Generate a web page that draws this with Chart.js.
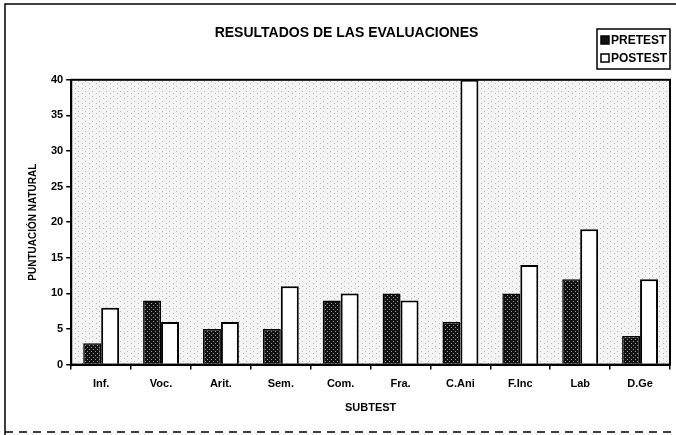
<!DOCTYPE html>
<html>
<head>
<meta charset="utf-8">
<script src="https://cdn.jsdelivr.net/npm/chart.js@4"></script>
<style>
  body { margin: 0; background: #fff; }
  #wrap { width: 676px; height: 435px; }
</style>
</head>
<body>
<div id="wrap"><canvas id="myChart" width="676" height="435"></canvas></div>
<script>
const categories = ["Inf.", "Voc.", "Arit.", "Sem.", "Com.", "Fra.", "C.Ani", "F.Inc", "Lab", "D.Ge"];
const pretest = [3, 9, 5, 5, 9, 10, 6, 10, 12, 4];
const posttest = [8, 6, 6, 11, 10, 9, 40, 14, 19, 12];
const yTicks = [0, 5, 10, 15, 20, 25, 30, 35, 40];

const FONT = "'Liberation Sans', Arial, sans-serif";

// dark hatched fill used for the PRETEST bars
function hatch() {
  const c = document.createElement("canvas");
  c.width = 4;
  c.height = 4;
  const g = c.getContext("2d");
  g.fillStyle = "#111";
  g.fillRect(0, 0, 4, 4);
  g.fillStyle = "#9a9a9a";
  g.fillRect(1, 1, 1, 1);
  g.fillRect(3, 3, 1, 1);
  return g.createPattern(c, "repeat");
}

// light stipple behind the plot
function stipple() {
  const c = document.createElement("canvas");
  c.width = 7;
  c.height = 5;
  const g = c.getContext("2d");
  g.fillStyle = "#f4f4f4";
  g.fillRect(0, 0, 7, 5);
  g.fillStyle = "#b8b8b8";
  g.fillRect(1, 1, 1, 1);
  g.fillRect(5, 3, 1, 1);
  return g.createPattern(c, "repeat");
}

const ctx = document.getElementById("myChart");

const frame = {
  id: "frame",
  beforeDatasetsDraw(chart) {
    const { ctx, chartArea: a } = chart;
    ctx.save();
    ctx.fillStyle = stipple();
    ctx.fillRect(a.left, a.top, a.right - a.left, a.bottom - a.top);
    ctx.restore();
  },
  afterDraw(chart) {
    const { ctx, chartArea: a } = chart;
    ctx.save();
    ctx.strokeStyle = "#000";
    ctx.lineWidth = 2;
    ctx.strokeRect(a.left, a.top, a.right - a.left, a.bottom - a.top);

    // outer border of the figure
    ctx.lineWidth = 1.5;
    ctx.beginPath();
    ctx.moveTo(5, 435);
    ctx.lineTo(5, 4);
    ctx.lineTo(676, 4);
    ctx.stroke();
    ctx.setLineDash([8, 6]);
    ctx.beginPath();
    ctx.moveTo(5, 432);
    ctx.lineTo(676, 432);
    ctx.stroke();
    ctx.setLineDash([]);

    // legend box
    const x = 597, y = 29, w = 73, h = 40;
    ctx.lineWidth = 1.5;
    ctx.fillStyle = "#fff";
    ctx.fillRect(x, y, w, h);
    ctx.strokeRect(x, y, w, h);
    ctx.font = "bold 12px " + FONT;
    ctx.textBaseline = "middle";
    chart.data.datasets.forEach((ds, i) => {
      const cy = y + 11 + i * 18;
      ctx.fillStyle = i === 0 ? "#111" : "#fff";
      ctx.fillRect(x + 4, cy - 4, 8, 8);
      ctx.lineWidth = 1.5;
      ctx.strokeRect(x + 4, cy - 4, 8, 8);
      ctx.fillStyle = "#000";
      ctx.fillText(ds.label, x + 14, cy + 1);
    });
    ctx.restore();
  },
};

new Chart(ctx, {
  type: "bar",
  data: {
    labels: categories,
    datasets: [
      {
        label: "PRETEST",
        data: pretest,
        backgroundColor: hatch(),
        borderColor: "#000",
        borderWidth: 1.5,
        categoryPercentage: 0.6,
        barPercentage: 1.0,
      },
      {
        label: "POSTEST",
        data: posttest,
        backgroundColor: "#fff",
        borderColor: "#000",
        borderWidth: 2,
        categoryPercentage: 0.6,
        barPercentage: 1.0,
      },
    ],
  },
  options: {
    responsive: false,
    animation: false,
    layout: { padding: { left: 23, right: 6, top: 8, bottom: 16 } },
    plugins: {
      legend: { display: false },
      tooltip: { enabled: false },
      title: {
        display: true,
        text: "RESULTADOS DE LAS EVALUACIONES",
        color: "#000",
        font: { family: FONT, size: 14, weight: "bold" },
        padding: { top: 17, bottom: 38 },
      },
    },
    scales: {
      x: {
        grid: { display: true, drawOnChartArea: false, color: "#000", tickLength: 5, lineWidth: 1.5 },
        border: { color: "#000", width: 2 },
        ticks: { color: "#000", font: { family: FONT, size: 11, weight: "bold" }, padding: 8 },
        title: {
          display: true,
          text: "SUBTEST",
          color: "#000",
          font: { family: FONT, size: 11, weight: "bold" },
          padding: { top: 3 },
        },
      },
      y: {
        min: 0,
        max: 40,
        afterBuildTicks(axis) {
          axis.ticks = yTicks.map((v) => ({ value: v }));
        },
        grid: { display: true, drawOnChartArea: false, color: "#000", tickLength: 5, lineWidth: 1.5 },
        border: { color: "#000", width: 2 },
        ticks: { color: "#000", font: { family: FONT, size: 11, weight: "bold" }, padding: 3 },
        title: {
          display: true,
          text: "PUNTUACIÓN NATURAL",
          color: "#000",
          font: { family: FONT, size: 10, weight: "bold" },
          padding: { bottom: 9 },
        },
      },
    },
  },
  plugins: [frame],
});
</script>
</body>
</html>
